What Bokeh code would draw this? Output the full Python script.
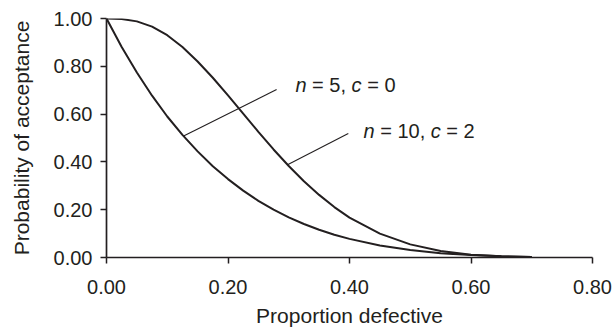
from bokeh.plotting import figure
from bokeh.models import Label, Range1d, FixedTicker
from bokeh.embed import file_html
from bokeh.resources import INLINE

# ---- data ----
p_defective = [0.0, 0.025, 0.05, 0.075, 0.10, 0.125, 0.15, 0.175, 0.20, 0.225, 0.25, 0.275,
               0.30, 0.325, 0.35, 0.375, 0.40, 0.45, 0.50, 0.55, 0.60, 0.65, 0.70]
pa_n5_c0 = [1.0, 0.881, 0.774, 0.677, 0.590, 0.513, 0.444, 0.382, 0.328, 0.280, 0.237, 0.200,
            0.168, 0.140, 0.116, 0.095, 0.078, 0.050, 0.031, 0.018, 0.010, 0.005, 0.002]
pa_n10_c2 = [1.0, 0.998, 0.988, 0.966, 0.930, 0.881, 0.820, 0.752, 0.678, 0.602, 0.526, 0.452,
             0.383, 0.319, 0.262, 0.211, 0.167, 0.100, 0.055, 0.027, 0.012, 0.005, 0.002]

x_ticks = [0.0, 0.2, 0.4, 0.6, 0.8]
x_tick_labels = ["0.00", "0.20", "0.40", "0.60", "0.80"]
y_ticks = [0.0, 0.2, 0.4, 0.6, 0.8, 1.0]
y_tick_labels = ["0.00", "0.20", "0.40", "0.60", "0.80", "1.00"]

# annotation tokens (text, italic, trailing space in em), label anchor, leader line
label_n5 = [("n", True, 0.278), ("=", False, 0.278), ("5,", False, 0.278),
            ("c", True, 0.278), ("=", False, 0.278), ("0", False, 0.0)]
label_n10 = [("n", True, 0.278), ("=", False, 0.278), ("10,", False, 0.278),
             ("c", True, 0.278), ("=", False, 0.278), ("2", False, 0.0)]
anchor_n5 = (0.311, 0.721)
anchor_n10 = (0.423, 0.529)
leader_n5 = (0.127, 0.508, 0.280, 0.703)
leader_n10 = (0.298, 0.388, 0.398, 0.519)

INK = "#231f20"
FONT = "Liberation Sans"
FS = 20

p = figure(frame_width=486, frame_height=239, output_backend="svg", toolbar_location=None,
           x_range=Range1d(0, 0.8), y_range=Range1d(0, 1.0),
           min_border_left=106, min_border_right=20, min_border_top=18, min_border_bottom=73)
p.outline_line_color = None
p.grid.visible = False
p.background_fill_color = "white"
p.border_fill_color = "white"

p.line(p_defective, pa_n5_c0, line_color=INK, line_width=2)
p.line(p_defective, pa_n10_c2, line_color=INK, line_width=2)

p.segment(x0=[leader_n5[0], leader_n10[0]], y0=[leader_n5[1], leader_n10[1]],
          x1=[leader_n5[2], leader_n10[2]], y1=[leader_n5[3], leader_n10[3]],
          line_color=INK, line_width=1.1)

for ax, ticks, labels in ((p.xaxis[0], x_ticks, x_tick_labels), (p.yaxis[0], y_ticks, y_tick_labels)):
    ax.ticker = FixedTicker(ticks=ticks)
    ax.major_label_overrides = {t: l for t, l in zip(ticks, labels)}
    ax.minor_tick_line_color = None
    ax.major_tick_in = 0
    ax.major_tick_out = 6
    ax.major_tick_line_color = INK
    ax.major_tick_line_width = 1.5
    ax.axis_line_color = INK
    ax.axis_line_width = 1.7
    ax.major_label_text_font = FONT
    ax.major_label_text_font_size = f"{FS}px"
    ax.major_label_text_color = INK
    ax.axis_label_text_font = FONT
    ax.axis_label_text_font_size = "21px"
    ax.axis_label_text_font_style = "normal"
    ax.axis_label_text_color = INK

p.xaxis.axis_label = "Proportion defective"
p.yaxis.axis_label = "Probability of acceptance"
p.xaxis.major_label_standoff = 16
p.yaxis.major_label_standoff = 8
p.xaxis.axis_label_standoff = 7
p.yaxis.axis_label_standoff = 18

# Arial-compatible advance widths (em)
W = {"n": 0.556, "c": 0.5, "=": 0.584, ",": 0.278}
for d in "0123456789":
    W[d] = 0.556


def add_label(tokens, anchor):
    off = 0.0
    for txt, ital, gap in tokens:
        p.add_layout(Label(x=anchor[0], y=anchor[1], x_offset=off, text=txt,
                           text_font=FONT, text_font_size=f"{FS}px", text_color=INK,
                           text_font_style="italic" if ital else "normal",
                           text_baseline="alphabetic", text_align="left"))
        off += (sum(W.get(ch, 0.556) for ch in txt) + gap) * FS


add_label(label_n5, anchor_n5)
add_label(label_n10, anchor_n10)

open("out.html", "w").write(file_html(p, INLINE))
